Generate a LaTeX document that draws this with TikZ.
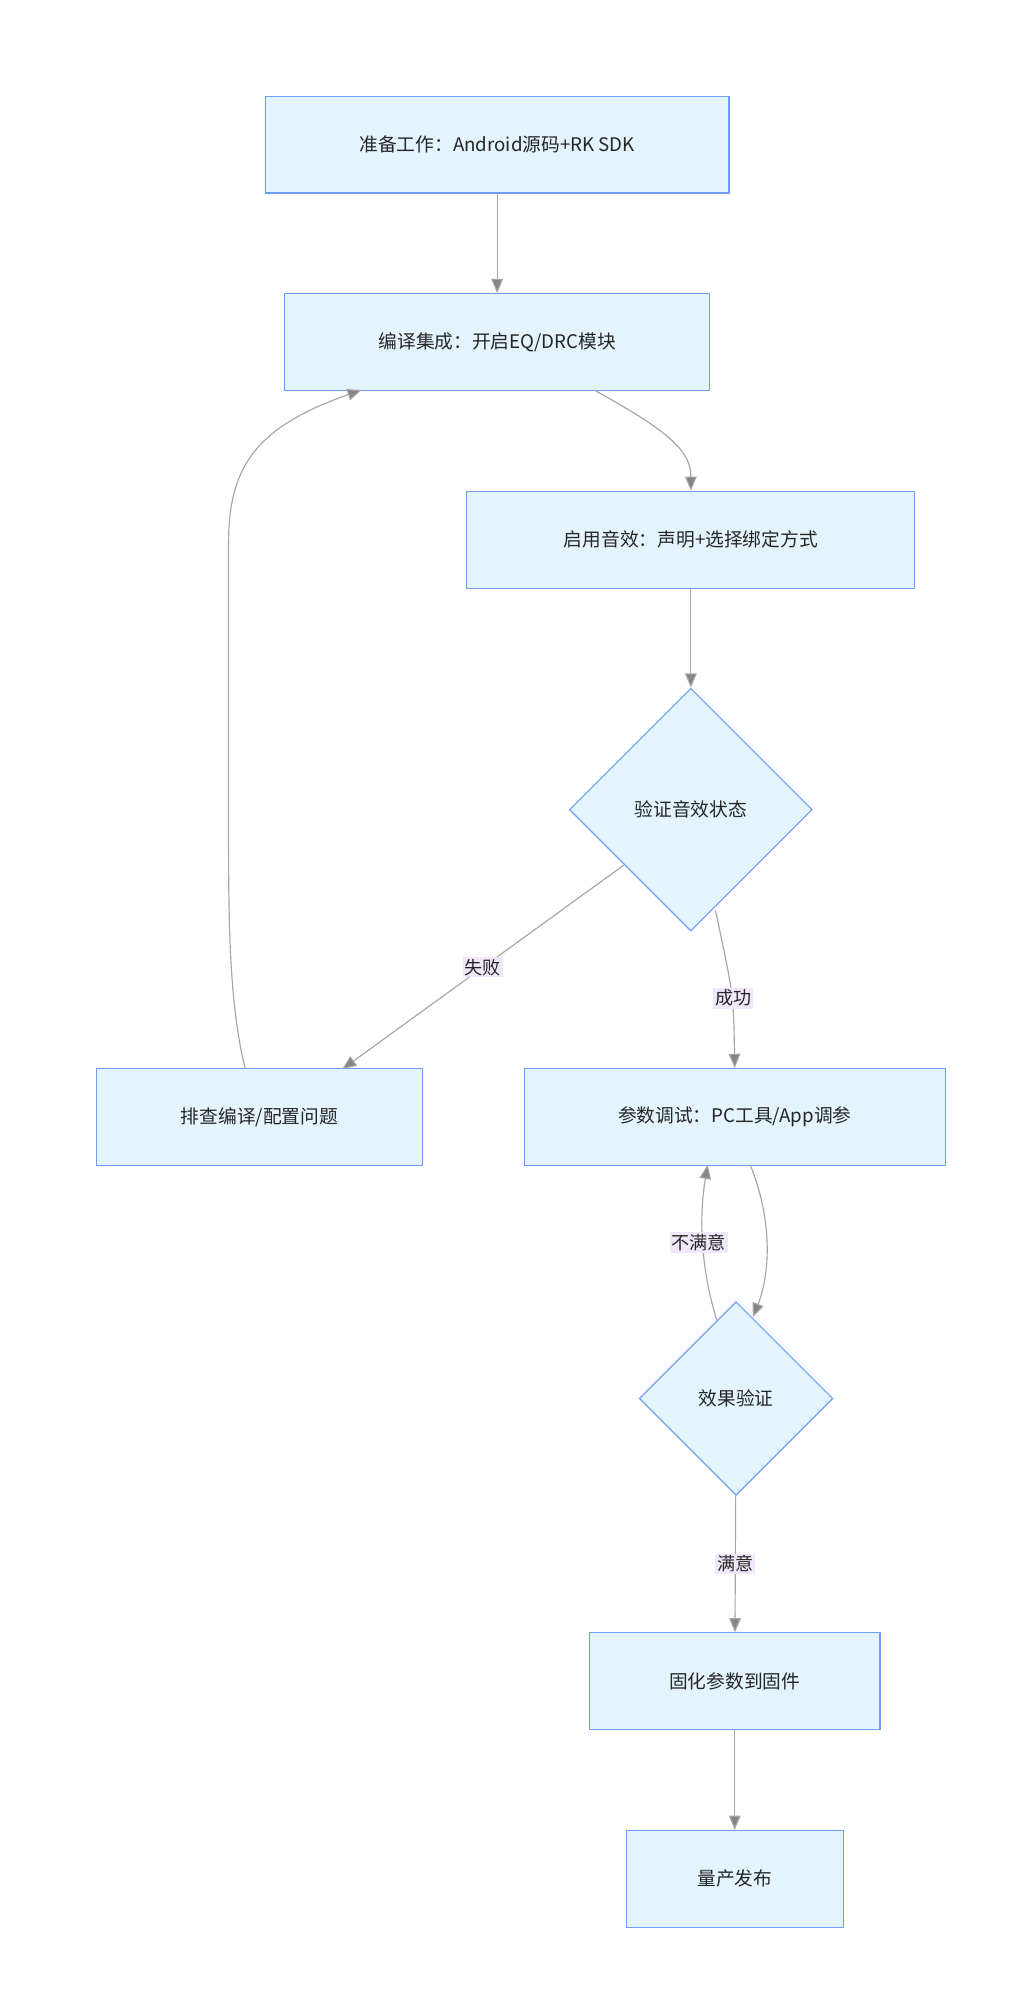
\documentclass[tikz,border=0pt]{standalone}
\usepackage{fontspec}
\setmainfont{Noto Sans CJK SC}
\usetikzlibrary{arrows.meta,shapes.geometric,calc}
\definecolor{boxfill}{HTML}{E4F4FD}
\definecolor{boxline}{HTML}{6E9EF5}
\definecolor{edgegray}{HTML}{A6A6A6}
\definecolor{lblfill}{HTML}{F0E8FA}

\begin{document}
\begin{tikzpicture}[
    x=1pt, y=-1pt,
    box/.style={%
        draw=boxline, fill=boxfill, line width=0.9pt,
        minimum height=75pt, inner sep=0pt
        },
    dia/.style={%
        draw=boxline, fill=boxfill, line width=0.9pt,
        diamond, aspect=1, inner sep=0pt
        },
    edge/.style={%
        draw=edgegray, line width=0.9pt,
        -{Triangle[length=11pt,width=9pt,fill=edgegray!80!black]}
        },
    lbl/.style={%
        fill=lblfill, inner sep=1.5pt, font=\fontsize{14}{16}\selectfont
        },
    every node/.style={%
        font=\fontsize{14.5}{17}\selectfont, text=black!85
       }
    ]
    \useasboundingbox (0,0) rectangle (800,1555);
    \node[box, minimum width=359pt] (prep) at (385,112) {准备工作：Android源码+RK SDK};
    \node[box, minimum width=329pt] (build) at (385,265) {编译集成：开启EQ/DRC模块};
    \node[box, minimum width=347pt] (enable) at (535,418) {启用音效：声明+选择绑定方式};
    \node[dia, minimum width=188pt, minimum height=188pt] (check) at (535,627) {验证音效状态};
    \node[box, minimum width=253pt] (debug) at (201,865) {排查编译/配置问题};
    \node[box, minimum width=326pt] (tune) at (569,865) {参数调试：PC工具/App调参};
    \node[dia, minimum width=150pt, minimum height=150pt] (verify) at (570,1083) {效果验证};
    \node[box, minimum width=225pt] (fix) at (569,1302) {固化参数到固件};
    \node[box, minimum width=168pt] (release) at (569,1455) {量产发布};
    % free ends of the bent connectors
    \coordinate (buildout) at (460,302);
    \coordinate (buildin) at (280,302);
    \coordinate (failout) at (483,670);
    \coordinate (failin) at (265,828);
    \coordinate (okout) at (554,705);
    \coordinate (debugout) at (190,828);
    \coordinate (tuneout) at (581,902);
    \coordinate (tunein) at (548,902);
    \coordinate (verifyin) at (583,1020);
    \coordinate (verifyout) at (555,1022);

    \draw[edge] (prep) -- (build);
    \draw[edge] (buildout) .. controls (520,335) and (535,350) .. (enable.north);
    \draw[edge] (enable) -- (check);
    \draw[edge] (failout) -- node[lbl] {失败} (failin);
    \draw[edge] (okout) .. controls (568,770) .. (tune.north);
    \node[lbl] (okl) at (568,773) {成功};
    \draw[edge] (debugout) .. controls (178,780) and (177,720) .. (177,650)
        -- (177,420) .. controls (177,360) and (200,330) .. (buildin);
    \draw[edge] (tuneout) .. controls (600,950) and (595,990) .. (verifyin);
    \draw[edge] (verifyout) .. controls (545,990) and (540,950) .. (tunein);
    \node[lbl] (badl) at (541,962) {不满意};
    \draw[edge] (verify) -- node[lbl] {满意} (fix);
    \draw[edge] (fix) -- (release);
\end{tikzpicture}
\end{document}
